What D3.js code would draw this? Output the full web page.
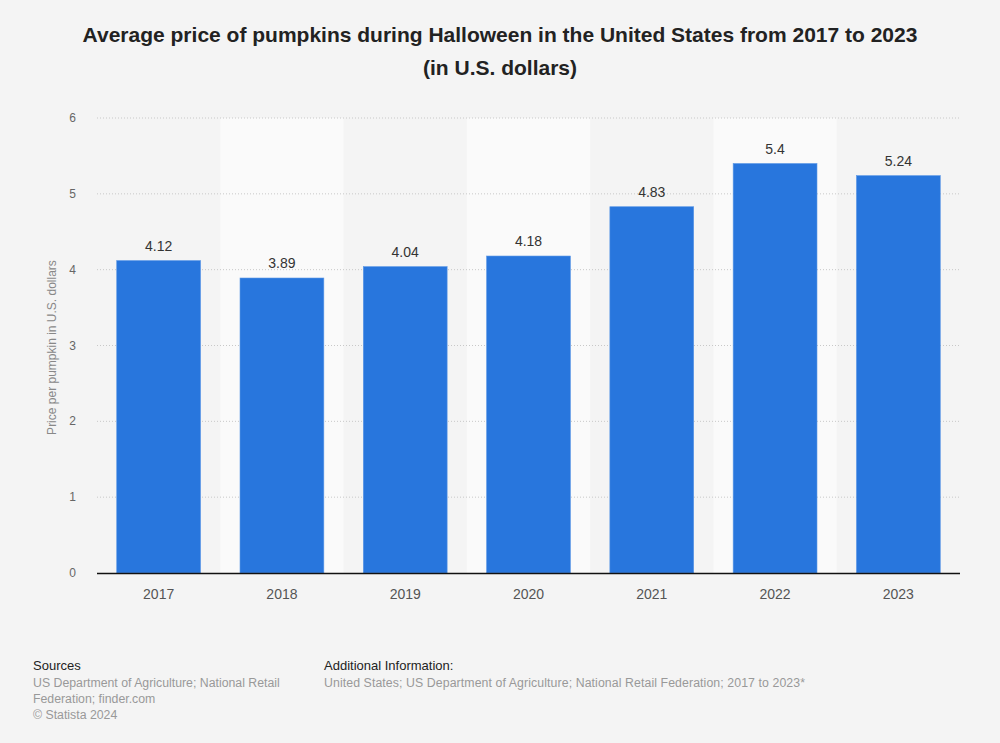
<!DOCTYPE html>
<html><head><meta charset="utf-8">
<script src="https://cdn.jsdelivr.net/npm/d3@7"></script>
<style>body{margin:0;background:#f4f4f4;font-family:"Liberation Sans",Arial,sans-serif;}</style>
</head><body><svg id="c" width="1000" height="743"></svg>
<script>
const years = ["2017","2018","2019","2020","2021","2022","2023"];
const prices = [4.12, 3.89, 4.04, 4.18, 4.83, 5.4, 5.24];
const yTicks = [0,1,2,3,4,5,6];
const labels = ["4.12","3.89","4.04","4.18","4.83","5.4","5.24"];

const svg = d3.select("#c");
svg.append("rect").attr("width",1000).attr("height",743).attr("fill","#f4f4f4");
const L=97, R=960, T=118, B=573;
const x = d3.scaleBand().domain(years).range([L,R]).padding(0);
const y = d3.scaleLinear().domain([0,6]).range([B,T]);

svg.selectAll("rect.band").data(years.filter((d,i)=>i%2==1)).enter().append("rect")
  .attr("x",d=>x(d)).attr("width",x.bandwidth()).attr("y",T).attr("height",B-T).attr("fill","#fafafa");

svg.selectAll("line.grid").data(yTicks.filter(d=>d>0)).enter().append("line")
  .attr("x1",L).attr("x2",R).attr("y1",d=>y(d)).attr("y2",d=>y(d))
  .attr("stroke","#c8c8c8").attr("stroke-dasharray","1,2").attr("stroke-width",1);

svg.selectAll("text.yt").data(yTicks).enter().append("text")
  .attr("x",76).attr("y",d=>y(d)+4).attr("text-anchor","end")
  .attr("font-size",12).attr("fill","#666").text(d=>d);

const bw = x.bandwidth()*0.68;
svg.selectAll("rect.bar").data(prices).enter().append("rect")
  .attr("x",(d,i)=>x(years[i])+(x.bandwidth()-bw)/2).attr("width",bw)
  .attr("y",d=>y(d)).attr("height",d=>B-y(d))
  .attr("fill","#2876dd").attr("stroke","#5b97e6").attr("stroke-width",0.6);

svg.selectAll("text.vl").data(prices).enter().append("text")
  .attr("x",(d,i)=>x(years[i])+x.bandwidth()/2).attr("y",d=>y(d)-10)
  .attr("text-anchor","middle").attr("font-size",14).attr("fill","#333")
  .text((d,i)=>labels[i]);

svg.append("line").attr("x1",L).attr("x2",R).attr("y1",B+0.5).attr("y2",B+0.5).attr("stroke","#111").attr("stroke-width",1.3);

svg.selectAll("text.xl").data(years).enter().append("text")
  .attr("x",d=>x(d)+x.bandwidth()/2).attr("y",599).attr("text-anchor","middle")
  .attr("font-size",14).attr("fill","#555").text(d=>d);

svg.append("text").attr("transform","translate(56,"+((T+B)/2+2)+") rotate(-90)")
  .attr("text-anchor","middle").attr("font-size",12).attr("fill","#888")
  .text("Price per pumpkin in U.S. dollars");

const title = ["Average price of pumpkins during Halloween in the United States from 2017 to 2023","(in U.S. dollars)"];
svg.selectAll("text.title").data(title).enter().append("text")
  .attr("x",500).attr("y",(d,i)=>42+i*33).attr("text-anchor","middle")
  .attr("font-size",21).attr("font-weight","bold").attr("fill","#222").text(d=>d);

svg.append("text").attr("x",33).attr("y",670).attr("font-size",13).attr("fill","#222").text("Sources");
const src = ["US Department of Agriculture; National Retail","Federation; finder.com","© Statista 2024"];
svg.selectAll("text.src").data(src).enter().append("text")
  .attr("x",33).attr("y",(d,i)=>687+i*16).attr("font-size",12.3).attr("fill","#999").text(d=>d);
svg.append("text").attr("x",324).attr("y",670).attr("font-size",13).attr("fill","#222").text("Additional Information:");
svg.append("text").attr("x",324).attr("y",687).attr("font-size",12.3).attr("fill","#999")
  .attr("textLength",481).attr("lengthAdjust","spacing")
  .text("United States; US Department of Agriculture; National Retail Federation; 2017 to 2023*");
</script></body></html>
